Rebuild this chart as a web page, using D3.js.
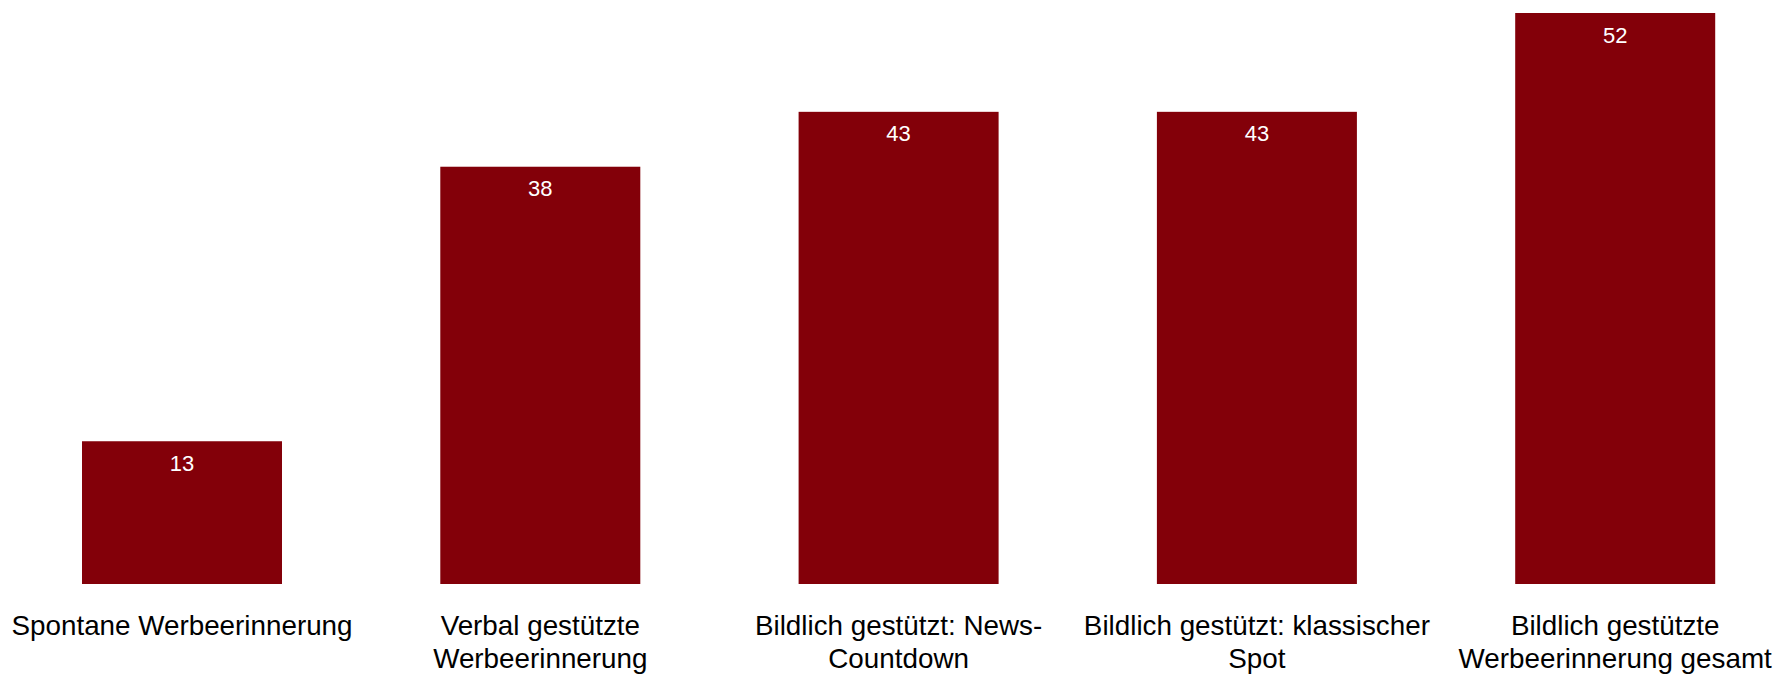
<!DOCTYPE html>
<html lang="de">
<head>
<meta charset="utf-8">
<script src="https://cdn.jsdelivr.net/npm/d3@7"></script>
<style>
  html, body { margin: 0; padding: 0; background: #ffffff; }
  svg { display: block; }
  text { font-family: "Liberation Sans", Arial, sans-serif; }
</style>
</head>
<body>
<script>
// Werbeerinnerung in Prozent
const categories = [
  "Spontane Werbeerinnerung",
  "Verbal gestützte Werbeerinnerung",
  "Bildlich gestützt: News-Countdown",
  "Bildlich gestützt: klassischer Spot",
  "Bildlich gestützte Werbeerinnerung gesamt"
];
const values = [13, 38, 43, 43, 52];
// Zeilenumbrüche der Achsenbeschriftungen
const labelLines = [
  ["Spontane Werbeerinnerung"],
  ["Verbal gestützte", "Werbeerinnerung"],
  ["Bildlich gestützt: News-", "Countdown"],
  ["Bildlich gestützt: klassischer", "Spot"],
  ["Bildlich gestützte", "Werbeerinnerung gesamt"]
];

const width = 1780, height = 677;
const barColor = "#830009";

const svg = d3.select("body").append("svg")
  .attr("width", width)
  .attr("height", height);

const x = d3.scaleBand()
  .domain(categories)
  .range([2.85, 1794.35])
  .paddingInner(0.4418)
  .paddingOuter(0.2209);

const y = d3.scaleLinear()
  .domain([0, d3.max(values)])
  .range([584, 13]);

const data = categories.map((c, i) => ({ cat: c, value: values[i], lines: labelLines[i] }));

// Balken
svg.append("g")
  .selectAll("rect")
  .data(data)
  .join("rect")
  .attr("x", d => x(d.cat))
  .attr("y", d => y(d.value))
  .attr("width", x.bandwidth())
  .attr("height", d => y(0) - y(d.value))
  .attr("fill", barColor);

// Werte in den Balken
svg.append("g")
  .selectAll("text")
  .data(data)
  .join("text")
  .attr("x", d => x(d.cat) + x.bandwidth() / 2)
  .attr("y", d => y(d.value) + 29.5)
  .attr("text-anchor", "middle")
  .attr("fill", "#ffffff")
  .style("font-size", "22px")
  .text(d => d.value);

// Kategorienachse
const xAxis = d3.axisBottom(x).tickSize(0).tickPadding(0);
const axisG = svg.append("g")
  .attr("transform", `translate(0,${y(0)})`)
  .call(xAxis);
axisG.select(".domain").remove();
axisG.selectAll(".tick text").remove();
axisG.selectAll(".tick").each(function(cat, i) {
  const t = d3.select(this).append("text")
    .attr("text-anchor", "middle")
    .attr("fill", "#000000")
    .style("font-size", "27.8px");
  labelLines[i].forEach((line, j) => {
    t.append("tspan")
      .attr("x", 0)
      .attr("y", 50.5 + j * 33.5)
      .text(line);
  });
});
</script>
</body>
</html>
